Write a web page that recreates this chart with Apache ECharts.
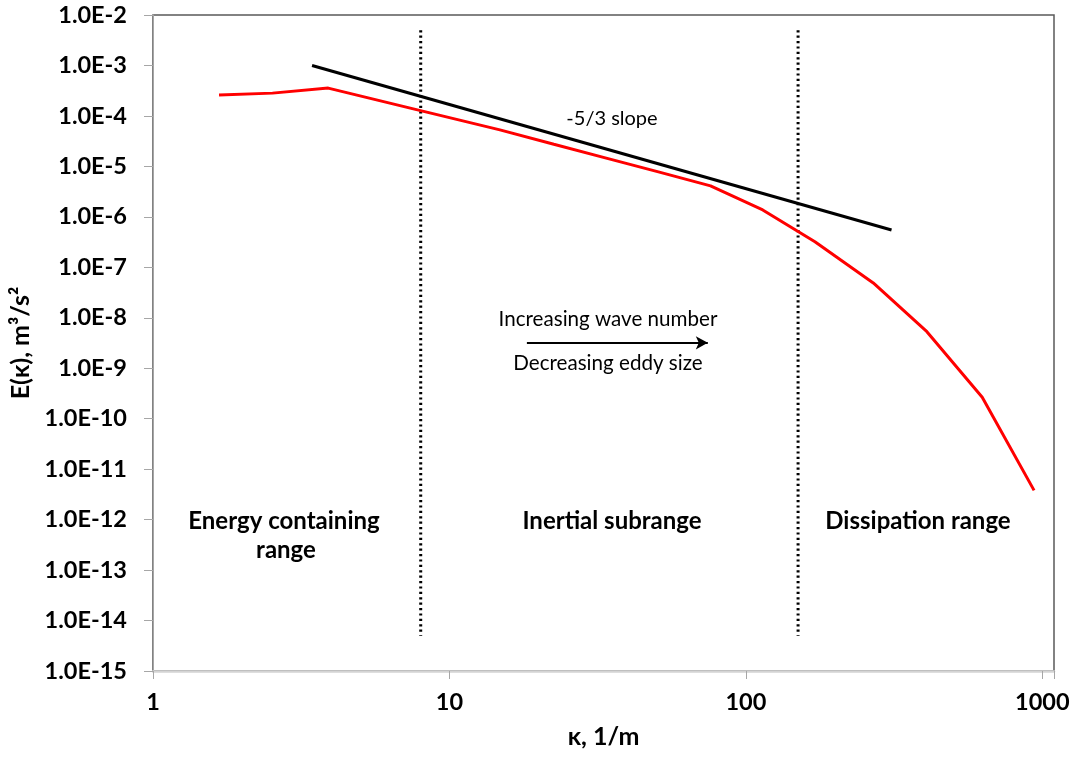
<!DOCTYPE html>
<html>
<head>
<meta charset="utf-8">
<script src="https://cdn.jsdelivr.net/npm/echarts@6/dist/echarts.min.js"></script>
<style>
html,body{margin:0;padding:0;background:#fff;}
#main{width:1073px;height:759px;}
</style>
</head>
<body>
<div id="main"></div>
<script>
// wave number (1/m) and energy spectrum values for the red curve
var kSpectrum = [1.67, 2.53, 3.9, 7.8, 14.8, 22.5, 33.8, 50.7, 76, 114, 171, 269, 408, 627, 938];
var eSpectrum = [2.59e-4, 2.83e-4, 3.56e-4, 1.32e-4, 5.3e-5, 2.74e-5, 1.46e-5, 7.8e-6, 4.1e-6, 1.37e-6, 3.22e-7, 4.9e-8, 5.3e-9, 2.67e-10, 3.8e-12];
// -5/3 slope reference line
var kSlope = [3.44, 310];
var eSlope = [1.0e-3, 5.5e-7];
// range boundaries (dotted verticals)
var kBounds = [8, 150];
var eBoundRange = [5e-3, 5e-15];
// arrow (wave number direction)
var kArrow = [18.25, 74.4];
var eArrow = 3.19e-9;
// axis ranges
var xMin = 1, xMax = 1095;
var yMin = 1e-15, yMax = 1e-2;
var xTickLabels = ['1', '10', '100', '1000'];

var FONT = 'Lato, "Open Sans", sans-serif';

function zip(a, b) { return a.map(function (v, i) { return [v, b[i]]; }); }

var series = [];
kBounds.forEach(function (k) {
  series.push({
    type: 'line', data: [[k, eBoundRange[0]], [k, eBoundRange[1]]],
    showSymbol: false, silent: true, z: 1,
    lineStyle: { color: '#000', width: 3, type: [2.2, 3.2] }
  });
});
series.push({
  type: 'line', data: zip(kSlope, eSlope), showSymbol: false, z: 3,
  lineStyle: { color: '#000', width: 3 }
});
series.push({
  type: 'line', data: zip(kSpectrum, eSpectrum), showSymbol: false, z: 4,
  lineStyle: { color: '#ff0000', width: 3 },
  markLine: {
    silent: true, symbol: ['none', 'arrow'], symbolSize: [10, 12],
    label: { show: false },
    lineStyle: { color: '#000', width: 2, type: 'solid' },
    data: [[{ coord: [kArrow[0], eArrow] }, { coord: [kArrow[1], eArrow] }]]
  }
});

function txt(text, x, y, size, bold) {
  return {
    type: 'text', x: x, y: y, z: 10,
    style: {
      text: text, x: 0, y: 0, align: 'center', verticalAlign: 'middle',
      font: (bold ? 'bold ' : '') + size + 'px ' + FONT, fill: '#000'
    }
  };
}

var chart = echarts.init(document.getElementById('main'), null, { renderer: 'canvas' });
chart.setOption({
  backgroundColor: '#fff',
  animation: false,
  grid: { left: 153, top: 15, right: 19, bottom: 88, show: true, borderColor: '#5a5a5a', borderWidth: 1.5, backgroundColor: 'transparent' },
  xAxis: {
    type: 'log', logBase: 10, min: xMin, max: xMax, interval: 1,
    name: 'κ, 1/m', nameLocation: 'middle', nameGap: 53,
    nameTextStyle: { fontFamily: FONT, fontWeight: 'bold', fontSize: 25, color: '#000', verticalAlign: 'top' },
    axisLine: { show: true, lineStyle: { color: '#d4d4d4', width: 2.5 } },
    axisTick: { show: true, length: 8, lineStyle: { color: '#a6a6a6', width: 1 } },
    minorTick: { show: false },
    splitLine: { show: false },
    axisLabel: {
      margin: 19, fontFamily: FONT, fontWeight: 'bold', fontSize: 23.5, color: '#000',
      showMaxLabel: true, showMinLabel: true,
      formatter: function (v) {
        var l = Math.log10(v), r = Math.round(l);
        if (Math.abs(l - r) < 1e-6 && r >= 0 && r < xTickLabels.length) return xTickLabels[r];
        return '';
      }
    }
  },
  yAxis: {
    type: 'log', logBase: 10, min: yMin, max: yMax, interval: 1,
    name: 'E(κ), m³/s²', nameLocation: 'middle', nameGap: 119, nameRotate: 90,
    nameTextStyle: { fontFamily: FONT, fontWeight: 'bold', fontSize: 25, color: '#000' },
    axisLine: { show: true, lineStyle: { color: '#a6a6a6', width: 1 } },
    axisTick: { show: true, length: 9, lineStyle: { color: '#a6a6a6', width: 1 } },
    minorTick: { show: false },
    splitLine: { show: false },
    axisLabel: {
      margin: 26, fontFamily: FONT, fontWeight: 'bold', fontSize: 23.5, color: '#000',
      formatter: function (v) { return Number(v).toExponential(1).toUpperCase(); }
    }
  },
  series: series,
  graphic: [
    txt('-5/3 slope', 612, 119, 20, false),
    txt('Increasing wave number', 608, 319, 20.6, false),
    txt('Decreasing eddy size', 608, 363, 20.6, false),
    txt('Energy containing', 284, 521, 24, true),
    txt('range', 286, 550, 24, true),
    txt('Inertial subrange', 612, 521, 24, true),
    txt('Dissipation range', 918, 521, 24, true)
  ]
});
</script>
</body>
</html>
